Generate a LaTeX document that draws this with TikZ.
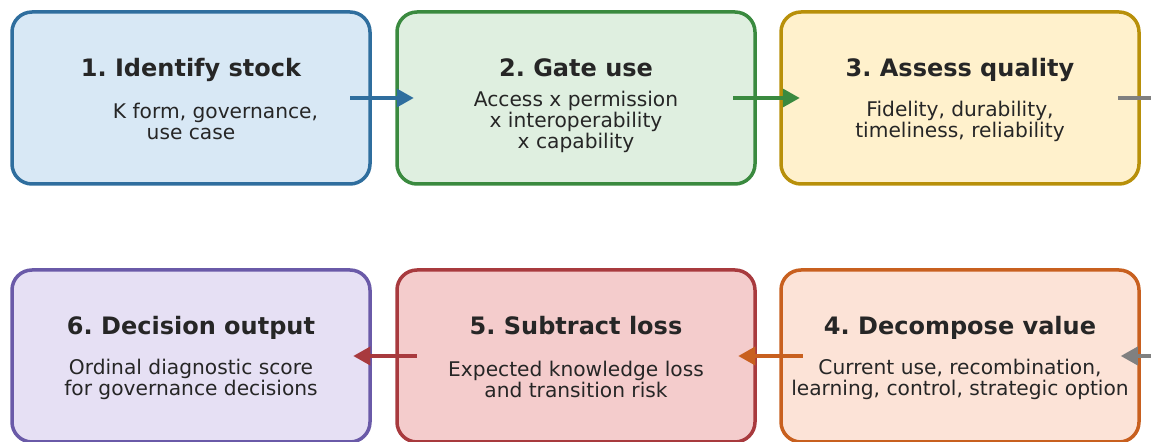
\documentclass[tikz,border=0pt]{standalone}
\usepackage{fontspec}
\setmainfont{DejaVu Sans}
\frenchspacing
\usetikzlibrary{arrows.meta,calc}
\definecolor{txt}{HTML}{262626}
\definecolor{blueb}{HTML}{2F6E9E}\definecolor{bluef}{HTML}{D8E8F5}
\definecolor{greenb}{HTML}{3A8A3F}\definecolor{greenf}{HTML}{DFEFE0}
\definecolor{goldb}{HTML}{B8900A}\definecolor{goldf}{HTML}{FFF1CC}
\definecolor{orangeb}{HTML}{C8601F}\definecolor{orangef}{HTML}{FCE3D7}
\definecolor{redb}{HTML}{A83A3E}\definecolor{redf}{HTML}{F4CCCC}
\definecolor{purpleb}{HTML}{6A5AA8}\definecolor{purplef}{HTML}{E6E0F4}
\definecolor{flowgray}{HTML}{808080}
\tikzset{
  x=0.5pt, y=-0.5pt,
  stepbox/.style = {rectangle, rounded corners=10pt, line width=1.75pt,
    minimum width=179pt, minimum height=86pt, inner sep=0pt},
  steptitle/.style = {anchor=base, inner sep=0pt, text=txt, font=\fontsize{12}{14}\selectfont\bfseries},
  stepbody/.style = {align=center, inner sep=0pt, text=txt, font=\fontsize{10.1}{10.5}\selectfont},
  flow/.style = {line width=1.75pt, -{Triangle[length=8.5pt,width=9pt]}}
}
\begin{document}
\begin{tikzpicture}
  \useasboundingbox (0,0) rectangle (1151,442);
  \clip (0,0) rectangle (1151,442);
  % boxes
  \node[stepbox, draw=blueb, fill=bluef] (stock) at (191,98) {};
  \node[stepbox, draw=greenb, fill=greenf] (gate) at (576,98) {};
  \node[stepbox, draw=goldb, fill=goldf] (quality) at (960,98) {};
  \node[stepbox, draw=orangeb, fill=orangef] (value) at (960,356) {};
  \node[stepbox, draw=redb, fill=redf] (loss) at (576,356) {};
  \node[stepbox, draw=purpleb, fill=purplef] (output) at (191,356) {};
  % titles
  \node[steptitle] (stock-t) at ([yshift=10.75pt]stock.center) {1. Identify stock};
  \node[steptitle] (gate-t) at ([yshift=10.75pt]gate.center) {2. Gate use};
  \node[steptitle] (quality-t) at ([yshift=10.75pt]quality.center) {3. Assess quality};
  \node[steptitle] (value-t) at ([yshift=10.75pt]value.center) {4. Decompose value};
  \node[steptitle] (loss-t) at ([yshift=10.75pt]loss.center) {5. Subtract loss};
  \node[steptitle] (output-t) at ([yshift=10.75pt]output.center) {6. Decision output};
  % descriptions
  \node[stepbody] (stock-d) at ([yshift=-11.75pt]stock.center) {\hspace*{24.5pt}K form, governance,\\use case};
  \node[stepbody] (gate-d) at ([yshift=-11.75pt]gate.center) {Access x permission\\x interoperability\\x capability};
  \node[stepbody] (quality-d) at ([yshift=-11.75pt]quality.center) {Fidelity, durability,\\timeliness, reliability};
  \node[stepbody] (value-d) at ([yshift=-11.75pt]value.center) {Current use, recombination,\\learning, control, strategic option};
  \node[stepbody] (loss-d) at ([yshift=-11.75pt]loss.center) {Expected knowledge loss\\and transition risk};
  \node[stepbody] (output-d) at ([yshift=-11.75pt]output.center) {Ordinal diagnostic score\\for governance decisions};
  % connectors
  \draw[flow, blueb] ([xshift=-10.75pt]stock.east) -- ([xshift=9.25pt]gate.west);
  \draw[flow, greenb] ([xshift=-11.75pt]gate.east) -- ([xshift=10.25pt]quality.west);
  \draw[flow, flowgray] ([xshift=-11.25pt]quality.east) -- ++(50,0) |- ([xshift=-10pt]value.east);
  \draw[flow, orangeb] ([xshift=11.75pt]value.west) -- ([xshift=-9.25pt]loss.east);
  \draw[flow, redb] ([xshift=10.75pt]loss.west) -- ([xshift=-9.25pt]output.east);
\end{tikzpicture}
\end{document}
